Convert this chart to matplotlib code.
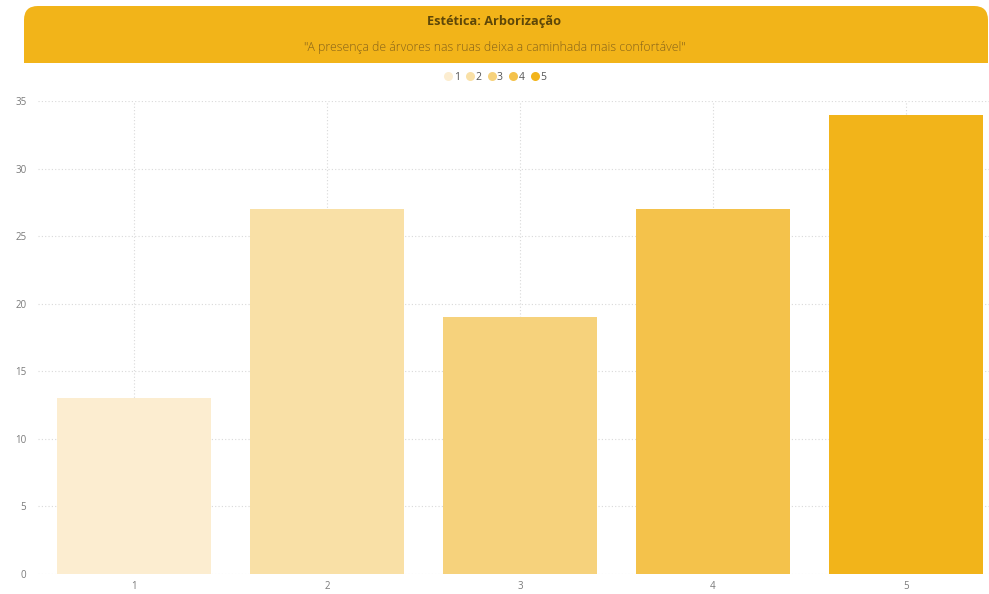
import matplotlib
matplotlib.use("Agg")
import matplotlib.pyplot as plt
from matplotlib.patches import FancyBboxPatch, Rectangle
from matplotlib.lines import Line2D

categories = ["1", "2", "3", "4", "5"]
values = [13, 27, 19, 27, 34]
colors = ["#fcedd0", "#f9e0a6", "#f6d27c", "#f4c24b", "#f2b41a"]
title = "Estética: Arborização"
subtitle = "\"A presença de árvores nas ruas deixa a caminhada mais confortável\""

plt.rcParams['font.family'] = ['Open Sans', 'DejaVu Sans']

fig = plt.figure(figsize=(9.89, 5.94), dpi=100)
W, H = 989, 594

# header banner with rounded top corners
x0, y0, x1, y1 = 24, 6, 988, 63
banner = FancyBboxPatch((x0 / W, 1 - y1 / H), (x1 - x0) / W, (y1 - y0) / H,
                        boxstyle="round,pad=0,rounding_size=0.014",
                        transform=fig.transFigure, facecolor="#f2b419",
                        edgecolor="none", mutation_aspect=W / H)
fig.patches.append(banner)
fig.patches.append(Rectangle((x0 / W, 1 - y1 / H), (x1 - x0) / W, 25 / H,
                             transform=fig.transFigure, facecolor="#f2b419",
                             edgecolor="none"))
fig.text(0.5, 1 - 22 / H, title, ha="center", va="center", fontsize=9.2,
         fontweight="bold", color="#5e4708")
fig.text(0.5, 1 - 48 / H, subtitle, ha="center", va="center", fontsize=8.8,
         fontweight="light", color="#85621a")

ax = fig.add_axes([37.5 / W, 20 / H, (W - 37.5) / W, (574 - 101) / H])
x = list(range(len(categories)))
ax.bar(x, values, width=0.8, color=colors, zorder=2)
ax.set_xlim(-0.5, (989 - 134) / 193)
ax.set_ylim(0, 35)
ax.set_yticks(range(0, 36, 5))
ax.set_xticks(x)
ax.set_xticklabels(categories)
ax.grid(True, linestyle=(0, (1, 2)), color="#d9d9d9", linewidth=0.8, zorder=0)
for s in ax.spines.values():
    s.set_visible(False)
ax.tick_params(length=0, labelsize=7, labelcolor="#7a7a7a")
ax.tick_params(axis="y", pad=8)
ax.tick_params(axis="x", pad=5)

handles = [Line2D([], [], marker="o", linestyle="none", markersize=6.5,
                  markerfacecolor=c, markeredgecolor="none") for c in colors]
fig.legend(handles, categories, loc="center", bbox_to_anchor=(0.5, 1 - 77 / H),
           ncol=5, frameon=False, fontsize=7.5, handletextpad=0.0,
           columnspacing=0.5, handlelength=1.0, labelcolor="#555555")

fig.savefig("out.png", dpi=100)
